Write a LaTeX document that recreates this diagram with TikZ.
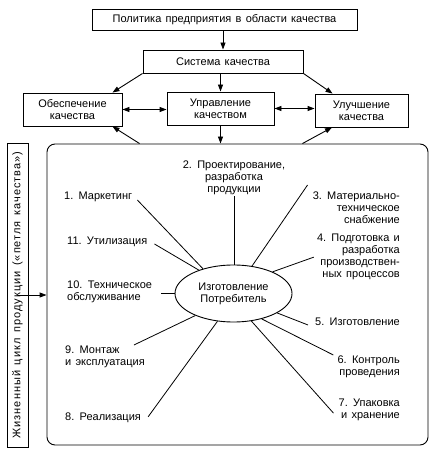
\documentclass[tikz,border=0pt]{standalone}
\usepackage{fontspec}
\setmainfont{Liberation Sans}[WordSpace=1.4]
\usetikzlibrary{positioning,arrows.meta,shapes.geometric}

\begin{document}
\begin{tikzpicture}[
  x=1pt, y=-1pt,
  every node/.style={font=\fontsize{11}{12}\selectfont},
  box/.style={draw=black,line width=0.9pt,align=center,inner sep=1pt},
  arr/.style={-{Triangle[length=7pt,width=5pt]},line width=0.9pt},
  dblarr/.style={{Triangle[length=7pt,width=5pt]}-{Triangle[length=7pt,width=5pt]},line width=0.9pt},
  ray/.style={line width=0.8pt},
  stage/.style={inner sep=1pt},
]
\useasboundingbox[fill=white] (0,0) rectangle (430,454);

% --- TOP LEVEL ---
\node[box,minimum width=265pt,minimum height=21pt] (policy) at (224.5,19.5)
  {Политика предприятия в области качества};
\node[box,minimum width=160pt,minimum height=23pt] (system) at (223,61.5)
  {Система качества};
\draw[arr] (policy.south -| system) -- (system.north);

% --- THREE FUNCTIONS ---
\node[box,minimum width=99pt,minimum height=33pt] (assure) at (72.5,109.5)
  {Обеспечение\\качества};
\node[box,minimum width=107pt,minimum height=33pt] (manage) at (220.5,108.5)
  {Управление\\качеством};
\node[box,minimum width=93pt,minimum height=33pt] (improve) at (361.5,110.5)
  {Улучшение\\качества};
\draw[arr] (system.south west) -- ([xshift=-10pt]assure.north east);
\draw[arr] (system.south -| manage) -- (manage.north);
\draw[arr] (system.south east) -- ([xshift=18pt]improve.north west);
\draw[dblarr] (assure.east) -- (assure.east -| manage.west);
\draw[dblarr] (manage.east) -- (manage.east -| improve.west);

% --- QUALITY LOOP FRAME ---
\node[draw,line width=0.9pt,rounded corners=8pt,minimum width=381pt,minimum height=301pt]
  (loop) at (237.5,294.5) {};
\node[box,rotate=90,minimum width=304pt,minimum height=21pt] (cycle) at (17.5,295)
  {\addfontfeatures{LetterSpace=9}Жизненный цикл продукции («петля качества»)};
\draw[arr] (cycle.south -| cycle.east) -- (cycle.south -| loop.west);
\draw[arr] ([xshift=93pt]loop.north west) -- ([xshift=-10pt]assure.south east);
\draw[arr] (manage.south) -- (manage.south |- loop.north);
\draw[arr] ([xshift=-126pt]loop.north east) -- ([xshift=-29.5pt]improve.south);

% --- CENTRE ---
\node[ellipse,draw,line width=0.9pt,minimum width=117pt,minimum height=57pt,align=center,inner sep=0pt]
  (core) at (233.5,293.5) {Изготовление\\Потребитель};

% --- STAGES ---
\node[stage,anchor=west] (stage1) at (63,197) {1. Маркетинг};
\node[stage,anchor=north,align=center] (stage2) at (234,160)
  {2. Проектирование,\\разработка\\продукции};
\node[stage,anchor=north east,align=right] (stage3) at (401,191)
  {3. Материально-\\техническое\\снабжение};
\node[stage,anchor=north east,align=right] (stage4) at (401,233)
  {4. Подготовка и\\разработка\\производствен-\\ных процессов};
\node[stage,anchor=east] (stage5) at (401,322) {5. Изготовление};
\node[stage,anchor=north east,align=right] (stage6) at (401,355)
  {6. Контроль\\проведения};
\node[stage,anchor=north east,align=right] (stage7) at (401,398)
  {7. Упаковка\\и хранение};
\node[stage,anchor=west] (stage8) at (64,418) {8. Реализация};
\node[stage,anchor=north west,align=left] (stage9) at (64,345)
  {9. Монтаж\\и эксплуатация};
\node[stage,anchor=north west,align=left] (stage10) at (66,280)
  {10. Техническое\\обслуживание};
\node[stage,anchor=west] (stage11) at (66,242) {11. Утилизация};

% rays from the centre
\draw[ray] ([xshift=4pt,yshift=-3pt]stage1.east) -- (core.141);
\draw[ray] (stage2.south) -- (stage2.south |- core.north);
\draw[ray] ([xshift=-4pt,yshift=6pt]stage3.north west) -- (core.56);
\draw[ray] ([xshift=-2pt]stage4.west) -- (core.29);
\draw[ray] ([xshift=-6pt,yshift=-3pt]stage5.west) -- (core.-24);
\draw[ray] ([xshift=-3pt]stage6.north west) -- (core.-42);
\draw[ray] ([xshift=-4pt,yshift=-3pt]stage7.west) -- (core.-57);
\draw[ray] ([xshift=6pt,yshift=-5pt]stage8.north east) -- (core.-120);
\draw[ray] ([xshift=-12pt]stage9.north east) -- (core.210);
\draw[ray,shorten >=8pt] (core.west) -- (core.west -| stage10.east);
\draw[ray] ([xshift=6pt,yshift=-2pt]stage11.east) -- (core.146);

\end{tikzpicture}
\end{document}
